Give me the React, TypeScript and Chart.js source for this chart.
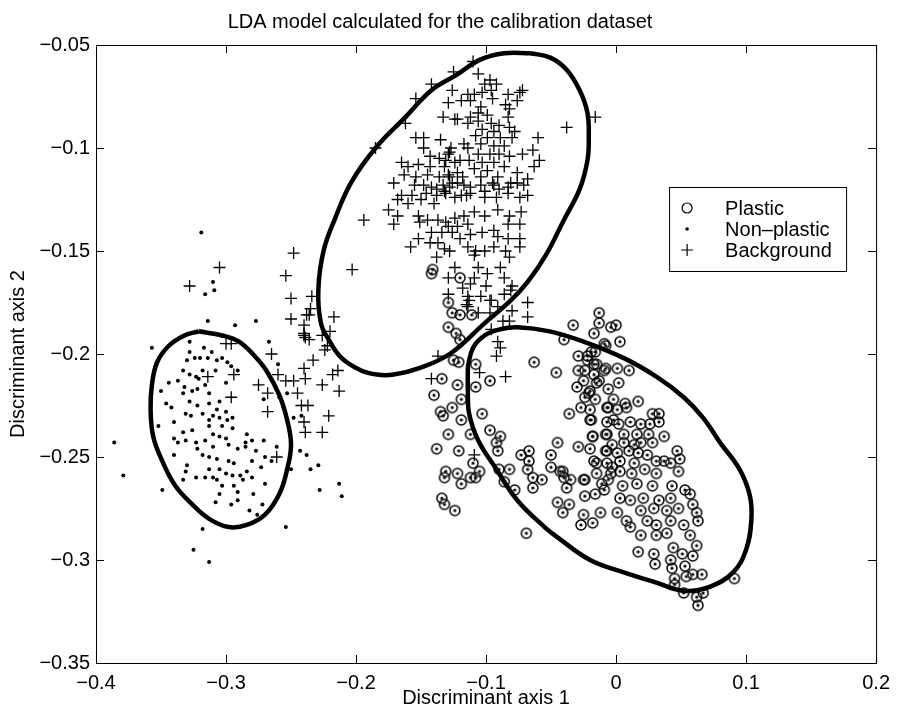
import React, { useEffect, useRef } from "react";
import { Chart, registerables } from "chart.js";

Chart.register(...registerables);

const FONT = '"Liberation Sans", Arial, Helvetica, sans-serif';
const TITLE = "LDA model calculated for the calibration dataset";
const X_LABEL = "Discriminant axis 1";
const Y_LABEL = "Discriminant axis 2";
const X_TICKS = [-0.4, -0.3, -0.2, -0.1, 0, 0.1, 0.2];
const Y_TICKS = [-0.35, -0.3, -0.25, -0.2, -0.15, -0.1, -0.05];
const LEGEND_LABELS = ["Plastic", "Non\u2013plastic", "Background"];

const plastic: [number, number][] = [
  [-0.141,-0.159],[-0.142,-0.161],[-0.120,-0.163],[-0.129,-0.175],[-0.126,-0.180],[-0.120,-0.181],[-0.111,-0.181],[-0.129,-0.187],[-0.123,-0.190],
  [-0.120,-0.193],[-0.125,-0.203],[-0.121,-0.204],[-0.108,-0.205],[-0.063,-0.204],[-0.046,-0.209],[-0.033,-0.186],[-0.040,-0.193],[-0.134,-0.212],
  [-0.122,-0.215],[-0.108,-0.216],[-0.097,-0.213],[-0.140,-0.220],[-0.119,-0.222],[-0.135,-0.228],[-0.133,-0.230],[-0.126,-0.226],[-0.119,-0.232],
  [-0.103,-0.229],[-0.036,-0.229],[-0.129,-0.239],[-0.112,-0.239],[-0.097,-0.237],[-0.089,-0.240],[-0.092,-0.243],[-0.045,-0.243],[-0.029,-0.245],
  [-0.138,-0.246],[-0.121,-0.247],[-0.091,-0.247],[-0.073,-0.249],[-0.067,-0.247],[-0.050,-0.249],[-0.110,-0.253],[-0.067,-0.252],[-0.090,-0.256],
  [-0.082,-0.256],[-0.068,-0.256],[-0.050,-0.255],[-0.043,-0.257],[-0.131,-0.257],[-0.122,-0.258],[-0.132,-0.260],[-0.105,-0.257],[-0.108,-0.260],
  [-0.112,-0.260],[-0.064,-0.260],[-0.057,-0.261],[-0.040,-0.260],[-0.035,-0.261],[-0.086,-0.262],[-0.119,-0.263],[-0.078,-0.266],[-0.064,-0.265],
  [-0.038,-0.265],[-0.134,-0.270],[-0.132,-0.273],[-0.124,-0.276],[-0.045,-0.272],[-0.036,-0.273],[-0.041,-0.277],[-0.027,-0.283],[-0.018,-0.282],
  [-0.069,-0.287],[-0.024,-0.269],[-0.016,-0.268],[-0.024,-0.261],[-0.015,-0.253],[-0.007,-0.247],[-0.020,-0.246],[-0.018,-0.240],[-0.019,-0.232],
  [-0.030,-0.216],[-0.029,-0.208],[-0.025,-0.213],[-0.020,-0.218],[-0.024,-0.221],[-0.015,-0.205],[-0.009,-0.208],[-0.013,-0.213],[-0.017,-0.190],
  [-0.013,-0.180],[-0.013,-0.185],[-0.019,-0.199],[-0.022,-0.201],[-0.004,-0.187],[-0.009,-0.195],[-0.006,-0.226],[-0.002,-0.232],[-0.008,-0.239],
  [-0.003,-0.255],[-0.006,-0.261],[-0.009,-0.266],[-0.012,-0.277],[-0.025,-0.278],
  [0.000,-0.186],[0.003,-0.194],[-0.008,-0.196],[-0.029,-0.201],[-0.016,-0.199],[-0.017,-0.205],[-0.022,-0.203],[-0.024,-0.208],[-0.008,-0.207],
  [0.001,-0.207],[0.010,-0.208],[-0.017,-0.210],[-0.015,-0.214],[0.002,-0.214],[-0.006,-0.217],[-0.021,-0.219],[-0.016,-0.222],[-0.002,-0.222],
  [0.007,-0.224],[0.017,-0.223],[-0.027,-0.226],[-0.020,-0.227],[-0.007,-0.226],[0.001,-0.227],[0.008,-0.226],[-0.020,-0.232],[-0.007,-0.233],
  [0.002,-0.234],[0.011,-0.233],[0.019,-0.234],[0.028,-0.229],[0.033,-0.229],[0.026,-0.234],[0.033,-0.233],[-0.018,-0.240],[-0.007,-0.239],
  [0.006,-0.239],[0.016,-0.239],[0.025,-0.239],[0.037,-0.240],[-0.003,-0.244],[0.014,-0.244],[0.028,-0.243],
  [0.006,-0.243],[0.019,-0.243],[-0.008,-0.247],[0.001,-0.248],[0.010,-0.247],[0.017,-0.248],[0.024,-0.249],[0.031,-0.252],[0.047,-0.247],
  [0.049,-0.251],[-0.017,-0.252],[-0.007,-0.253],[0.003,-0.252],[0.014,-0.253],[0.037,-0.252],[0.042,-0.253],[-0.041,-0.257],[-0.025,-0.261],
  [-0.015,-0.258],[-0.004,-0.258],[0.003,-0.257],[0.012,-0.258],[0.022,-0.256],[0.031,-0.258],[0.048,-0.257],[-0.011,-0.263],[0.005,-0.264],
  [0.016,-0.263],[0.028,-0.264],[0.043,-0.264],[0.053,-0.266],[0.003,-0.270],[0.011,-0.271],[0.021,-0.270],[0.033,-0.271],[0.042,-0.270],
  [0.057,-0.268],[0.059,-0.273],[0.001,-0.277],[0.019,-0.276],[0.029,-0.275],[0.039,-0.276],[0.048,-0.275],[0.062,-0.277],[0.008,-0.281],
  [0.011,-0.284],[0.024,-0.281],[0.031,-0.283],[0.042,-0.281],[0.052,-0.283],[0.063,-0.281],[0.019,-0.288],[0.031,-0.288],[0.039,-0.287],
  [0.057,-0.288],[0.062,-0.293],[0.044,-0.294],[0.051,-0.297],[0.059,-0.298],[0.017,-0.296],[0.029,-0.297],[0.030,-0.302],[0.042,-0.300],
  [0.043,-0.304],[0.053,-0.303],[0.045,-0.309],[0.054,-0.308],[0.059,-0.307],[0.066,-0.307],[0.045,-0.312],[0.052,-0.316],[0.062,-0.318],
  [0.063,-0.322],[0.067,-0.316],[0.091,-0.309],
];

const nonPlastic: [number, number][] = [
  [-0.319,-0.141],[-0.310,-0.165],[-0.316,-0.171],[-0.309,-0.169],[-0.314,-0.184],[-0.293,-0.186],[-0.277,-0.184],[-0.267,-0.194],[-0.357,-0.197],
  [-0.328,-0.194],[-0.317,-0.197],[-0.311,-0.199],[-0.328,-0.199],[-0.330,-0.203],[-0.324,-0.202],[-0.320,-0.202],[-0.314,-0.202],[-0.307,-0.203],
  [-0.303,-0.202],[-0.299,-0.204],[-0.260,-0.205],[-0.333,-0.208],[-0.318,-0.208],[-0.308,-0.208],[-0.291,-0.208],[-0.296,-0.206],[-0.328,-0.210],
  [-0.323,-0.211],[-0.321,-0.212],[-0.300,-0.214],[-0.344,-0.214],[-0.337,-0.213],[-0.332,-0.216],[-0.326,-0.218],[-0.322,-0.217],[-0.316,-0.215],
  [-0.313,-0.219],[-0.333,-0.219],[-0.350,-0.218],[-0.346,-0.224],[-0.342,-0.226],[-0.328,-0.223],[-0.322,-0.225],[-0.313,-0.224],[-0.305,-0.223],
  [-0.307,-0.227],[-0.331,-0.229],[-0.327,-0.230],[-0.318,-0.229],[-0.310,-0.230],[-0.300,-0.228],[-0.313,-0.232],[-0.305,-0.231],[-0.299,-0.232],
  [-0.340,-0.233],[-0.352,-0.235],[-0.313,-0.235],[-0.303,-0.235],[-0.295,-0.236],[-0.333,-0.238],[-0.326,-0.237],[-0.310,-0.239],[-0.305,-0.240],
  [-0.300,-0.241],[-0.340,-0.241],[-0.331,-0.242],[-0.316,-0.242],[-0.323,-0.243],[-0.337,-0.243],[-0.285,-0.243],[-0.280,-0.242],[-0.271,-0.242],
  [-0.310,-0.245],[-0.298,-0.244],[-0.291,-0.246],[-0.285,-0.245],[-0.322,-0.246],[-0.318,-0.249],[-0.313,-0.250],[-0.307,-0.251],[-0.340,-0.249],
  [-0.277,-0.247],[-0.261,-0.245],[-0.270,-0.250],[-0.265,-0.252],[-0.298,-0.252],[-0.294,-0.253],[-0.330,-0.254],[-0.280,-0.252],[-0.273,-0.255],
  [-0.313,-0.256],[-0.305,-0.256],[-0.300,-0.258],[-0.295,-0.259],[-0.289,-0.259],[-0.331,-0.257],[-0.316,-0.260],[-0.310,-0.260],[-0.307,-0.261],
  [-0.284,-0.257],[-0.280,-0.260],[-0.323,-0.260],[-0.333,-0.261],[-0.287,-0.261],[-0.303,-0.264],[-0.294,-0.264],[-0.270,-0.263],[-0.349,-0.266],
  [-0.305,-0.268],[-0.291,-0.267],[-0.279,-0.268],[-0.308,-0.272],[-0.296,-0.273],[-0.291,-0.271],[-0.272,-0.273],[-0.282,-0.276],[-0.276,-0.278],
  [-0.386,-0.243],[-0.379,-0.259],[-0.318,-0.285],[-0.254,-0.284],[-0.325,-0.295],[-0.313,-0.301],[-0.248,-0.231],[-0.243,-0.247],[-0.250,-0.256],
  [-0.253,-0.219],[-0.259,-0.221],[-0.271,-0.222],[-0.242,-0.230],[-0.238,-0.249],[-0.235,-0.256],[-0.229,-0.254],[-0.213,-0.263],[-0.228,-0.266],
  [-0.211,-0.269],[-0.295,-0.231],[-0.284,-0.239],
];

const background: [number, number][] = [
  [-0.248,-0.151],[-0.305,-0.158],[-0.328,-0.167],[-0.254,-0.162],[-0.250,-0.173],[-0.250,-0.183],[-0.238,-0.181],[-0.240,-0.186],[-0.240,-0.191],
  [-0.239,-0.192],[-0.300,-0.195],[-0.296,-0.195],[-0.265,-0.200],[-0.240,-0.207],[-0.260,-0.210],[-0.314,-0.211],[-0.294,-0.210],
  [-0.194,-0.135],[-0.203,-0.159],[-0.234,-0.172],[-0.235,-0.178],[-0.236,-0.181],[-0.240,-0.190],[-0.236,-0.193],[-0.217,-0.182],[-0.220,-0.189],
  [-0.226,-0.191],[-0.222,-0.196],[-0.224,-0.198],[-0.233,-0.203],[-0.239,-0.212],[-0.254,-0.213],[-0.248,-0.213],[-0.275,-0.215],[-0.268,-0.219],
  [-0.245,-0.219],[-0.226,-0.215],[-0.218,-0.210],[-0.214,-0.208],[-0.213,-0.218],[-0.242,-0.225],[-0.237,-0.225],[-0.268,-0.228],[-0.221,-0.230],
  [-0.240,-0.233],[-0.239,-0.238],[-0.226,-0.238],[-0.261,-0.250],[-0.296,-0.221],
  [-0.125,-0.063],[-0.142,-0.069],[-0.126,-0.072],[-0.154,-0.076],[-0.129,-0.078],[-0.133,-0.085],[-0.124,-0.086],[-0.162,-0.088],[-0.154,-0.095],
  [-0.148,-0.095],[-0.135,-0.096],[-0.148,-0.100],[-0.128,-0.102],[-0.185,-0.100],[-0.143,-0.104],[-0.136,-0.105],[-0.131,-0.106],[-0.165,-0.107],
  [-0.160,-0.109],[-0.152,-0.108],[-0.143,-0.109],[-0.132,-0.109],[-0.124,-0.107],[-0.163,-0.113],[-0.154,-0.114],[-0.145,-0.113],[-0.136,-0.114],
  [-0.129,-0.113],[-0.171,-0.117],[-0.155,-0.118],[-0.148,-0.118],[-0.142,-0.119],[-0.133,-0.118],[-0.126,-0.117],[-0.165,-0.123],[-0.157,-0.123],
  [-0.146,-0.122],[-0.138,-0.123],[-0.131,-0.122],
  [-0.110,-0.058],[-0.106,-0.064],[-0.097,-0.067],[-0.101,-0.069],[-0.092,-0.069],[-0.096,-0.072],[-0.114,-0.074],[-0.109,-0.074],[-0.103,-0.073],
  [-0.095,-0.076],[-0.083,-0.074],[-0.074,-0.073],[-0.072,-0.072],[-0.076,-0.077],[-0.119,-0.077],[-0.112,-0.077],[-0.104,-0.080],[-0.085,-0.079],
  [-0.082,-0.081],[-0.106,-0.083],[-0.099,-0.084],[-0.112,-0.085],[-0.122,-0.086],[-0.083,-0.085],[-0.016,-0.085],[-0.106,-0.087],[-0.096,-0.088],
  [-0.090,-0.089],[-0.114,-0.088],[-0.038,-0.090],[-0.082,-0.090],[-0.078,-0.092],[-0.103,-0.091],[-0.094,-0.092],[-0.108,-0.094],[-0.099,-0.095],
  [-0.089,-0.095],[-0.080,-0.095],[-0.060,-0.095],[-0.117,-0.098],[-0.104,-0.098],[-0.094,-0.099],[-0.086,-0.099],[-0.127,-0.100],[-0.114,-0.100],
  [-0.064,-0.101],[-0.129,-0.103],[-0.106,-0.103],[-0.097,-0.103],[-0.090,-0.103],[-0.072,-0.103],[-0.082,-0.104],[-0.059,-0.106],[-0.120,-0.106],
  [-0.113,-0.106],[-0.103,-0.107],[-0.094,-0.107],[-0.086,-0.109],[-0.063,-0.109],[-0.122,-0.112],[-0.109,-0.110],[-0.099,-0.111],[-0.076,-0.112],
  [-0.128,-0.114],[-0.118,-0.114],[-0.104,-0.114],[-0.091,-0.114],[-0.068,-0.115],[-0.076,-0.117],[-0.122,-0.117],[-0.095,-0.117],[-0.112,-0.119],
  [-0.083,-0.119],[-0.132,-0.121],[-0.101,-0.121],[-0.068,-0.123],[-0.115,-0.123],[-0.092,-0.124],[-0.124,-0.124],
  [-0.138,-0.120],[-0.128,-0.119],[-0.117,-0.118],[-0.104,-0.118],[-0.094,-0.118],[-0.081,-0.117],[-0.071,-0.118],[-0.168,-0.125],[-0.160,-0.127],
  [-0.150,-0.125],[-0.140,-0.127],[-0.175,-0.130],[-0.119,-0.123],[-0.112,-0.122],[-0.101,-0.124],[-0.090,-0.120],[-0.083,-0.122],[-0.074,-0.124],
  [-0.168,-0.133],[-0.171,-0.137],[-0.152,-0.133],[-0.145,-0.135],[-0.137,-0.135],[-0.131,-0.136],[-0.124,-0.134],[-0.117,-0.133],[-0.109,-0.131],
  [-0.101,-0.133],[-0.091,-0.130],[-0.082,-0.133],[-0.073,-0.131],[-0.151,-0.136],[-0.129,-0.138],[-0.122,-0.138],[-0.114,-0.137],[-0.094,-0.140],
  [-0.083,-0.137],[-0.074,-0.137],[-0.142,-0.141],[-0.134,-0.141],[-0.126,-0.141],[-0.120,-0.144],[-0.112,-0.142],[-0.103,-0.141],[-0.091,-0.143],
  [-0.083,-0.144],[-0.074,-0.144],[-0.152,-0.144],[-0.158,-0.148],[-0.143,-0.146],[-0.137,-0.146],[-0.132,-0.149],[-0.128,-0.150],[-0.114,-0.148],
  [-0.108,-0.150],[-0.101,-0.150],[-0.094,-0.148],[-0.085,-0.150],[-0.074,-0.148],[-0.138,-0.153],[-0.109,-0.152],[-0.082,-0.153],[-0.106,-0.158],
  [-0.089,-0.158],[-0.124,-0.158],[-0.099,-0.161],[-0.129,-0.163],[-0.086,-0.163],[-0.109,-0.163],[-0.112,-0.166],[-0.118,-0.168],[-0.100,-0.167],
  [-0.080,-0.167],[-0.129,-0.171],[-0.114,-0.172],[-0.104,-0.172],[-0.096,-0.174],[-0.115,-0.176],[-0.106,-0.180],
  [-0.113,-0.174],[-0.114,-0.177],[-0.097,-0.174],[-0.091,-0.177],[-0.086,-0.171],[-0.081,-0.169],[-0.097,-0.180],[-0.080,-0.179],[-0.068,-0.175],
  [-0.068,-0.182],[-0.087,-0.184],[-0.082,-0.184],[-0.096,-0.188],[-0.091,-0.194],[-0.089,-0.197],[-0.092,-0.201],[-0.105,-0.209],[-0.085,-0.211],
  [-0.142,-0.212],[-0.137,-0.201],[-0.109,-0.249],
];

// Boundary ellipses, first point repeated to close
const ellipseNonPlastic: [number, number][] = [
  [-0.321,-0.189],[-0.303,-0.191],[-0.290,-0.194],[-0.278,-0.201],[-0.269,-0.208],[-0.259,-0.220],[-0.253,-0.232],[-0.250,-0.244],
  [-0.253,-0.256],[-0.259,-0.268],[-0.270,-0.278],[-0.284,-0.283],[-0.298,-0.284],[-0.313,-0.280],[-0.326,-0.273],[-0.339,-0.264],
  [-0.349,-0.252],[-0.356,-0.240],[-0.358,-0.227],[-0.357,-0.215],[-0.353,-0.204],[-0.344,-0.196],[-0.332,-0.191],[-0.321,-0.189],
];
const ellipseBackground: [number, number][] = [
  [-0.066,-0.054],[-0.051,-0.056],[-0.038,-0.062],[-0.028,-0.072],[-0.022,-0.083],[-0.021,-0.095],[-0.022,-0.106],[-0.028,-0.120],
  [-0.041,-0.136],[-0.054,-0.152],[-0.068,-0.165],[-0.081,-0.174],[-0.101,-0.185],[-0.128,-0.200],[-0.152,-0.207],[-0.171,-0.210],
  [-0.184,-0.210],[-0.196,-0.208],[-0.211,-0.202],[-0.221,-0.193],[-0.227,-0.185],[-0.229,-0.169],[-0.225,-0.150],[-0.216,-0.134],
  [-0.204,-0.117],[-0.185,-0.100],[-0.162,-0.085],[-0.142,-0.072],[-0.124,-0.065],[-0.104,-0.057],[-0.086,-0.054],[-0.066,-0.054],
];
const ellipsePlastic: [number, number][] = [
  [-0.114,-0.206],[-0.110,-0.197],[-0.101,-0.191],[-0.089,-0.188],[-0.076,-0.187],[-0.051,-0.189],[-0.025,-0.194],[0.006,-0.202],
  [0.031,-0.211],[0.052,-0.221],[0.067,-0.231],[0.080,-0.243],[0.095,-0.256],[0.103,-0.269],[0.104,-0.281],[0.100,-0.295],
  [0.090,-0.306],[0.072,-0.313],[0.052,-0.315],[0.031,-0.311],[0.006,-0.306],[-0.020,-0.300],[-0.045,-0.289],[-0.055,-0.284],
  [-0.076,-0.271],[-0.093,-0.255],[-0.106,-0.242],[-0.113,-0.229],[-0.114,-0.218],[-0.114,-0.206],
];

const toPts = (a: [number, number][]) => a.map(([x, y]) => ({ x, y }));
const fmt = (v: number) => {
  const s = String(Number(Number(v).toFixed(2)));
  return s.replace("-", "\u2212");
};

function makeRing(withDot: boolean): HTMLCanvasElement {
  const c = document.createElement("canvas");
  c.width = 14;
  c.height = 14;
  const g = c.getContext("2d")!;
  g.strokeStyle = "#000";
  g.lineWidth = 1.5;
  g.beginPath();
  g.arc(7, 7, 5, 0, Math.PI * 2);
  g.stroke();
  if (withDot) {
    g.fillStyle = "#000";
    g.beginPath();
    g.arc(7, 7, 1.6, 0, Math.PI * 2);
    g.fill();
  }
  return c;
}

const framePlugin = {
  id: "matlabFrame",
  afterDraw(chart: any) {
    const { ctx, chartArea: a, scales } = chart;
    const tl = 8;
    ctx.save();
    ctx.strokeStyle = "#000";
    ctx.lineWidth = 1;
    ctx.strokeRect(a.left + 0.5, a.top + 0.5, a.right - a.left, a.bottom - a.top);
    ctx.beginPath();
    X_TICKS.forEach((v) => {
      const px = Math.round(scales.x.getPixelForValue(v)) + 0.5;
      ctx.moveTo(px, a.bottom);
      ctx.lineTo(px, a.bottom - tl);
      ctx.moveTo(px, a.top);
      ctx.lineTo(px, a.top + tl);
    });
    Y_TICKS.forEach((v) => {
      const py = Math.round(scales.y.getPixelForValue(v)) + 0.5;
      ctx.moveTo(a.left, py);
      ctx.lineTo(a.left + tl, py);
      ctx.moveTo(a.right, py);
      ctx.lineTo(a.right - tl, py);
    });
    ctx.stroke();

    // legend box
    const lx = a.right - 207;
    const ly = a.top + 142;
    const lw = 177;
    const lh = 84;
    ctx.fillStyle = "#fff";
    ctx.fillRect(lx, ly, lw, lh);
    ctx.strokeRect(lx + 0.5, ly + 0.5, lw, lh);
    const symX = lx + 18;
    const rows = [21, 42, 63];
    ctx.fillStyle = "#000";
    ctx.font = `20px ${FONT}`;
    ctx.textBaseline = "alphabetic";
    ctx.textAlign = "left";
    rows.forEach((dy, i) => {
      const cy = ly + dy;
      if (i === 0) {
        ctx.lineWidth = 1.2;
        ctx.beginPath();
        ctx.arc(symX, cy, 5, 0, Math.PI * 2);
        ctx.stroke();
      } else if (i === 1) {
        ctx.beginPath();
        ctx.arc(symX, cy, 1.8, 0, Math.PI * 2);
        ctx.fill();
      } else {
        ctx.lineWidth = 1.2;
        ctx.beginPath();
        ctx.moveTo(symX - 6, cy);
        ctx.lineTo(symX + 6, cy);
        ctx.moveTo(symX, cy - 6);
        ctx.lineTo(symX, cy + 6);
        ctx.stroke();
      }
      ctx.fillText(LEGEND_LABELS[i], lx + 56, cy + 7);
    });
    ctx.restore();
  },
};

export default function App() {
  const ref = useRef<HTMLCanvasElement | null>(null);
  useEffect(() => {
    if (!ref.current) return;
    const ring = makeRing(true);
    const ellipseStyle = {
      showLine: true,
      borderColor: "#000",
      borderWidth: 4.5,
      pointRadius: 0,
      tension: 0.4,
      fill: false,
    };
    const chart = new Chart(ref.current, {
      type: "scatter",
      data: {
        datasets: [
          { label: "e1", data: toPts(ellipseNonPlastic), ...ellipseStyle },
          { label: "e2", data: toPts(ellipseBackground), ...ellipseStyle },
          { label: "e3", data: toPts(ellipsePlastic), ...ellipseStyle },
          {
            label: "Plastic",
            data: toPts(plastic),
            pointStyle: ring as any,
            pointRadius: 5,
            showLine: false,
          },
          {
            label: "Non-plastic",
            data: toPts(nonPlastic),
            pointStyle: "circle",
            pointRadius: 2,
            backgroundColor: "#000",
            borderWidth: 0,
            showLine: false,
          },
          {
            label: "Background",
            data: toPts(background),
            pointStyle: "cross",
            pointRadius: 6,
            borderColor: "#000",
            borderWidth: 1.3,
            showLine: false,
          },
        ],
      },
      options: {
        responsive: false,
        animation: false,
        devicePixelRatio: 1,
        events: [],
        layout: { padding: { left: 0, right: 18, top: 0, bottom: 0 } },
        plugins: {
          legend: { display: false },
          tooltip: { enabled: false },
          title: {
            display: true,
            text: TITLE,
            color: "#000",
            font: { family: FONT, size: 20, weight: "normal" as any },
            padding: { top: 10, bottom: 11 },
          },
        },
        scales: {
          x: {
            type: "linear",
            min: -0.4,
            max: 0.2,
            afterBuildTicks: (s: any) => {
              s.ticks = X_TICKS.map((v) => ({ value: v }));
            },
            afterFit: (s: any) => {
              s.height = 50;
            },
            grid: { display: false, drawTicks: false },
            border: { display: false },
            ticks: {
              color: "#000",
              font: { family: FONT, size: 20 },
              padding: 8,
              maxRotation: 0,
              autoSkip: false,
              callback: (v: any) => fmt(v),
            },
            title: {
              display: true,
              text: X_LABEL,
              color: "#000",
              font: { family: FONT, size: 20 },
              padding: { top: 0, bottom: 3 },
            },
          },
          y: {
            type: "linear",
            min: -0.35,
            max: -0.05,
            afterBuildTicks: (s: any) => {
              s.ticks = Y_TICKS.map((v) => ({ value: v }));
            },
            afterFit: (s: any) => {
              s.width = 96;
            },
            grid: { display: false, drawTicks: false },
            border: { display: false },
            ticks: {
              color: "#000",
              font: { family: FONT, size: 20 },
              padding: 6,
              autoSkip: false,
              callback: (v: any) => fmt(v),
            },
            title: {
              display: true,
              text: Y_LABEL,
              color: "#000",
              font: { family: FONT, size: 20 },
              padding: { top: 6, bottom: 0 },
            },
          },
        },
      },
      plugins: [framePlugin],
    });
    return () => chart.destroy();
  }, []);
  return (
    <div style={{ position: "fixed", left: 0, top: 0, width: 898, height: 713, background: "#fff" }}>
      <canvas ref={ref} width={898} height={713} />
    </div>
  );
}
